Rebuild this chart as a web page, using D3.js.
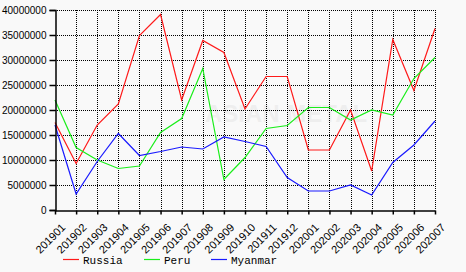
<!DOCTYPE html>
<html lang="en">
<head>
    <meta charset="UTF-8">
    <title>Russia Peru Myanmar</title>
    <script src="https://d3js.org/d3.v7.min.js"></script>
    <style>
        body { margin: 0; background: #f9f9f9; }
        .tick text { font-family: Arial, "Liberation Sans", sans-serif; font-size: 10px; fill: #000; }
        .x_axis .tick text { font-size: 11px; }
        .legend_text { font-family: "Liberation Mono", monospace; font-size: 11px; }
    </style>
</head>
<body>
<svg width="466" height="272"></svg>
<script>
    const months = ["201901", "201902", "201903", "201904", "201905", "201906", "201907",
        "201908", "201909", "201910", "201911", "201912", "202001", "202002", "202003",
        "202004", "202005", "202006", "202007"];
    const russia = [17500000, 9300000, 17000000, 21200000, 34900000, 39100000, 22000000,
        33900000, 31500000, 20200000, 26700000, 26700000, 12000000, 12000000, 20000000,
        7800000, 34100000, 23900000, 36300000];
    const peru = [22000000, 12500000, 10000000, 8300000, 8800000, 15500000, 18300000,
        28300000, 6100000, 10500000, 16300000, 16900000, 20500000, 20500000, 18000000,
        20000000, 19000000, 26300000, 30500000];
    const myanmar = [17000000, 3200000, 9700000, 15300000, 10900000, 11700000, 12600000,
        12200000, 14600000, 13700000, 12700000, 6500000, 3800000, 3800000, 5000000,
        3000000, 9500000, 13000000, 17800000];
    const names = ["Russia", "Peru", "Myanmar"];
    const colors = ["#ff1a1a", "#1aee1a", "#1a1aff"];
    const yTicks = d3.range(0, 40000001, 5000000);

    let svg = d3.select("svg");
    const plotLeft = 55, plotRight = 435, plotTop = 10, plotBottom = 210;

    let x = d3.scalePoint().domain(months).range([plotLeft, plotRight]);
    let y = d3.scaleLinear().domain([0, 40000000]).range([plotBottom, plotTop]);

    // faint watermark
    svg.append("text").attr("x", 205).attr("y", 122)
        .attr("font-family", "Arial, sans-serif").attr("font-weight", "bold")
        .attr("font-size", 24).attr("fill", "#000").attr("opacity", 0.04)
        .text("ASIAN METAL");

    // dotted grid
    let grid = svg.append("g");
    grid.selectAll("line.h").data(yTicks.slice(1)).enter().append("line")
        .attr("x1", plotLeft).attr("x2", plotRight)
        .attr("y1", d => y(d) + 0.5).attr("y2", d => y(d) + 0.5)
        .attr("stroke", "#000").attr("stroke-dasharray", "1,1");
    grid.selectAll("line.v").data(months.slice(1)).enter().append("line")
        .attr("x1", d => Math.round(x(d)) + 0.5).attr("x2", d => Math.round(x(d)) + 0.5)
        .attr("y1", plotTop).attr("y2", plotBottom)
        .attr("stroke", "#000").attr("stroke-dasharray", "1,1");

    // series
    let line = d3.line().x((d, i) => x(months[i])).y(d => y(d));
    [russia, peru, myanmar].forEach(function (s, k) {
        svg.append("path").datum(s)
            .attr("d", line)
            .attr("fill", "none")
            .attr("stroke", colors[k])
            .attr("stroke-width", 1.2);
    });

    // axes
    svg.append("g").attr("transform", `translate(${plotLeft + 0.5},0)`)
        .call(d3.axisLeft(y).tickValues(yTicks).tickSize(6).tickPadding(3).tickFormat(d3.format("d")))
        .call(g => g.selectAll("path,line").attr("stroke", "#000").attr("stroke-width", 1.5));

    svg.append("g").attr("class", "x_axis").attr("transform", `translate(0,${plotBottom + 0.5})`)
        .call(d3.axisBottom(x).tickSize(4).tickSizeOuter(0))
        .call(g => g.selectAll("path,line").attr("stroke", "#000").attr("stroke-width", 1.5))
        .selectAll("text")
        .attr("text-anchor", "end")
        .attr("dy", "0.35em")
        .attr("transform", "translate(3,10) rotate(-45)");

    // legend
    let legend = svg.append("g").attr("transform", "translate(63,259)");
    const legendX = [0, 81, 148];
    names.forEach(function (n, k) {
        let g = legend.append("g").attr("transform", `translate(${legendX[k]},0)`);
        g.append("line").attr("x1", 0).attr("x2", 16).attr("y1", 0.5).attr("y2", 0.5)
            .attr("stroke", colors[k]).attr("stroke-width", 1.2);
        g.append("text").attr("class", "legend_text").attr("x", 20).attr("y", 4.5).text(n);
    });
</script>
</body>
</html>
